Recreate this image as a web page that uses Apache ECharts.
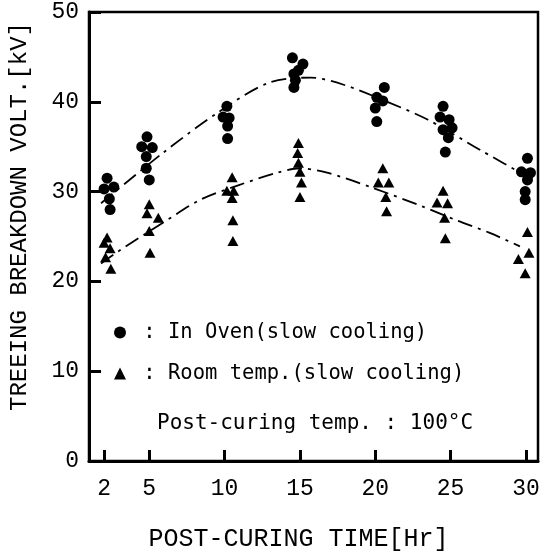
<!DOCTYPE html>
<html>
<head>
<meta charset="utf-8">
<script src="https://cdn.jsdelivr.net/npm/echarts@6/dist/echarts.min.js"></script>
<style>
  html, body { margin: 0; padding: 0; background: #fff; }
  #chart { width: 551px; height: 557px; }
</style>
</head>
<body>
<div id="chart"></div>
<script>
// post-curing time [Hr] ticks
const timeTicks = [2, 5, 10, 15, 20, 25, 30];

// In Oven (slow cooling): [time, kV], points spread a little around each time
const ovenPoints = [
  [2.2, 31.5], [2.65, 30.5], [2.0, 30.3], [2.35, 29.2], [2.4, 28.0],
  [4.85, 36.1], [4.5, 35.0], [5.2, 34.9], [4.8, 33.9], [4.8, 32.6], [5.0, 31.3],
  [10.15, 39.5], [9.9, 38.3], [10.3, 38.2], [10.2, 37.3], [10.2, 35.9],
  [14.5, 44.9], [15.2, 44.2], [14.9, 43.5], [14.6, 43.1], [14.7, 42.4], [14.6, 41.6],
  [20.6, 41.6], [20.1, 40.5], [20.5, 40.1], [20.0, 39.3], [20.1, 37.8],
  [24.5, 39.5], [24.3, 38.3], [24.9, 38.0], [24.5, 36.9], [25.1, 37.1], [24.85, 36.0], [24.65, 34.4],
  [30.1, 33.7], [29.7, 32.2], [30.3, 32.1], [30.1, 31.3], [29.95, 30.0], [29.95, 29.1]
];

// Room temp. (slow cooling)
const roomPoints = [
  [2.2, 24.9], [2.0, 24.3], [2.4, 23.7], [2.1, 22.7], [2.45, 21.4],
  [5.0, 28.6], [4.85, 27.6], [5.6, 27.1], [5.0, 25.6], [5.05, 23.2],
  [10.5, 31.6], [10.15, 30.1], [10.6, 30.1], [10.5, 29.3], [10.55, 26.8], [10.55, 24.5],
  [14.9, 35.4], [14.85, 34.3], [14.9, 33.2], [15.0, 32.2], [15.1, 31.0], [15.0, 29.4],
  [20.5, 32.6], [20.2, 31.0], [20.9, 31.0], [20.7, 29.4], [20.75, 27.8],
  [24.5, 30.1], [24.1, 28.8], [24.8, 28.7], [24.6, 27.1], [24.65, 24.8],
  [30.1, 25.5], [30.2, 23.2], [29.5, 22.5], [29.95, 20.9]
];

// fitted dash-dot curves
const ovenCurve = [
  [1.8, 28.7], [5.9, 34.3], [9.55, 38.8], [12.9, 42.1], [15.7, 42.7],
  [17.9, 41.9], [20.8, 40.0], [23.5, 38.0], [27.0, 34.6], [30.5, 31.3]
];
const roomCurve = [
  [1.8, 22.0], [2.9, 23.3], [5.97, 26.6], [8.4, 29.1], [10.9, 30.7], [13.5, 32.1],
  [15.0, 32.6], [16.8, 32.1], [19.7, 30.5], [23.2, 28.3], [25.4, 26.8], [27.6, 25.4], [29.6, 23.9]
];

const ovenName = 'In Oven(slow cooling)';
const roomName = 'Room temp.(slow cooling)';
const noteText = 'Post-curing temp. : 100°C';

const tickFont = 'Liberation Mono';
const textFont = 'DejaVu Sans Mono';
const dashDot = [15, 6, 3, 6];

const chart = echarts.init(document.getElementById('chart'));

chart.setOption({
  animation: false,
  backgroundColor: '#fff',
  title: {
    text: noteText,
    left: 152,
    top: 408,
    textStyle: { fontFamily: textFont, fontSize: 21, fontWeight: 'normal', color: '#000' }
  },
  legend: {
    orient: 'vertical',
    left: 109,
    top: 317,
    itemGap: 20,
    itemWidth: 12,
    itemHeight: 12,
    selectedMode: false,
    data: [
      { name: ovenName, icon: 'circle' },
      { name: roomName, icon: 'triangle' }
    ],
    formatter: name => ' : ' + name,
    textStyle: { fontFamily: textFont, fontSize: 20.5, color: '#000' }
  },
  grid: {
    left: 88,
    right: 13,
    top: 12,
    bottom: 96,
    show: true,
    borderColor: '#000',
    borderWidth: 2.5
  },
  xAxis: {
    type: 'value',
    min: 1,
    max: 30.8,
    name: 'POST-CURING TIME[Hr]',
    nameLocation: 'middle',
    nameGap: 66,
    nameTextStyle: { fontFamily: tickFont, fontSize: 25, color: '#000', padding: [0, 30, 0, 0] },
    axisLine: { lineStyle: { color: '#000', width: 3 } },
    axisTick: {
      inside: true,
      length: 11,
      customValues: timeTicks,
      lineStyle: { color: '#000', width: 3 }
    },
    axisLabel: {
      customValues: timeTicks,
      margin: 16,
      fontFamily: tickFont,
      fontSize: 23,
      color: '#000'
    },
    splitLine: { show: false }
  },
  yAxis: {
    type: 'value',
    min: 0,
    max: 50,
    interval: 10,
    name: 'TREEING BREAKDOWN VOLT.[kV]',
    nameLocation: 'middle',
    nameGap: 57,
    nameTextStyle: { fontFamily: tickFont, fontSize: 24, color: '#000', padding: [0, 0, 0, 40] },
    axisLine: { lineStyle: { color: '#000', width: 3 } },
    axisTick: { inside: true, length: 12, lineStyle: { color: '#000', width: 3 } },
    axisLabel: { margin: 10, fontFamily: tickFont, fontSize: 23, color: '#000' },
    splitLine: { show: false }
  },
  series: [
    {
      name: ovenName,
      type: 'scatter',
      symbol: 'circle',
      symbolSize: 11,
      itemStyle: { color: '#000', opacity: 1 },
      data: ovenPoints
    },
    {
      name: roomName,
      type: 'scatter',
      symbol: 'triangle',
      symbolSize: [11, 10],
      itemStyle: { color: '#000', opacity: 1 },
      data: roomPoints
    },
    {
      name: 'oven fit',
      type: 'line',
      smooth: 0.3,
      showSymbol: false,
      lineStyle: { color: '#000', width: 1.8, type: dashDot },
      data: ovenCurve
    },
    {
      name: 'room fit',
      type: 'line',
      smooth: 0.3,
      showSymbol: false,
      lineStyle: { color: '#000', width: 1.8, type: dashDot },
      data: roomCurve
    }
  ]
});
</script>
</body>
</html>
